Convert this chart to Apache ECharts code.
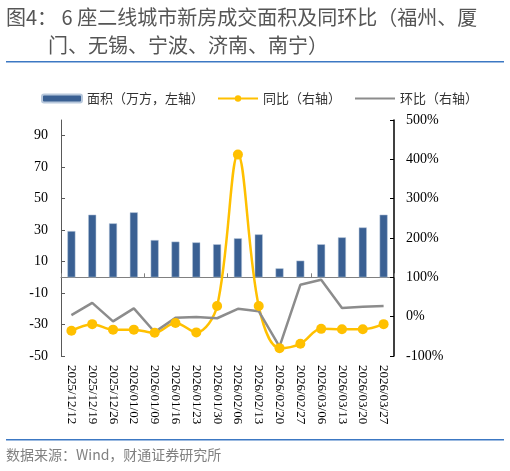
<!DOCTYPE html>
<html>
<head>
<meta charset="utf-8">
<script src="https://cdn.jsdelivr.net/npm/echarts@6/dist/echarts.min.js"></script>
<style>
  html, body { margin: 0; padding: 0; background: #fff; }
  #chart { width: 510px; height: 471px; }
</style>
</head>
<body>
<div id="chart"></div>
<script>
// weekly dates
var categories = ['2025/12/12', '2025/12/19', '2025/12/26', '2026/01/02', '2026/01/09', '2026/01/16',
  '2026/01/23', '2026/01/30', '2026/02/06', '2026/02/13', '2026/02/20', '2026/02/27',
  '2026/03/06', '2026/03/13', '2026/03/20', '2026/03/27'];
// 面积（万方）
var areaValues = [29.4, 39.8, 34.3, 41.3, 23.7, 22.7, 22.2, 21.0, 24.8, 27.3, 5.7, 10.6, 21.0, 25.4, 31.7, 39.8];
// 同比 %
var yoyValues = [-36, -19, -33, -33, -41, -16, -40, 27, 412, 27, -80, -69, -31, -32, -32, -19];
// 环比 %
var momValues = [4, 35, -12, 21, -39, -3, -1, -4, 20, 14, -76, 81, 94, 22, 25, 27];

var titleLine1 = '图4： 6 座二线城市新房成交面积及同环比（福州、厦';
var titleLine2 = '门、无锡、宁波、济南、南宁）';
var sourceText = '数据来源：Wind，财通证券研究所';

var cjk = '"Noto Sans CJK SC", "Noto Sans", sans-serif';
var serif = '"Liberation Serif", "DejaVu Serif", serif';

var chart = echarts.init(document.getElementById('chart'));

var option = {
  animation: false,
  backgroundColor: '#fff',
  graphic: [
    { type: 'text', left: 6, top: 7, style: { text: titleLine1, font: '20px ' + cjk, fill: '#555' } },
    { type: 'text', left: 48, top: 35, style: { text: titleLine2, font: '20px ' + cjk, fill: '#555' } },
    { type: 'rect', shape: { x: 6, y: 61, width: 498, height: 1.5 }, style: { fill: '#3C78C3' } },
    { type: 'rect', shape: { x: 6, y: 439, width: 498, height: 1.5 }, style: { fill: '#3C78C3' } },
    { type: 'text', left: 6, top: 448, style: { text: sourceText, font: '14px ' + cjk, fill: '#808080' } }
  ],
  legend: {
    left: 36,
    top: 87,
    itemWidth: 40,
    itemHeight: 8,
    itemGap: 13,
    textStyle: { fontFamily: cjk, fontSize: 13, color: '#333' },
    data: [
      '面积（万方，左轴）',
      '同比（右轴）',
      { name: '环比（右轴）', itemStyle: { opacity: 0 } }
    ]
  },
  grid: { left: 61, right: 116, top: 120, bottom: 115 },
  xAxis: [
    {
      type: 'category',
      data: categories,
      axisLine: { show: false, onZero: false },
      axisTick: { show: false },
      axisLabel: {
        rotate: -90,
        interval: 0,
        margin: 9,
        fontFamily: serif,
        fontSize: 13,
        color: '#000'
      }
    },
    {
      type: 'category',
      data: categories,
      position: 'bottom',
      axisLine: { show: true, onZero: true, onZeroAxisIndex: 0, lineStyle: { color: '#808080', width: 1 } },
      axisTick: { show: true, inside: true, length: 4, lineStyle: { color: '#808080' } },
      axisLabel: { show: false }
    }
  ],
  yAxis: [
    {
      type: 'value',
      min: -50,
      max: 100,
      interval: 20,
      splitLine: { show: false },
      axisLine: { show: true, lineStyle: { color: '#595959' } },
      axisTick: { show: true, inside: true, length: 4, lineStyle: { color: '#595959' } },
      axisLabel: { showMaxLabel: false, margin: 13, fontFamily: serif, fontSize: 14, color: '#000' }
    },
    {
      type: 'value',
      min: -100,
      max: 500,
      interval: 100,
      position: 'right',
      splitLine: { show: false },
      axisLine: { show: true, lineStyle: { color: '#000', width: 1.5 } },
      axisTick: { show: true, inside: true, length: 4, lineStyle: { color: '#000' } },
      axisLabel: { margin: 12, fontFamily: serif, fontSize: 14, color: '#000', formatter: '{value}%' }
    }
  ],
  series: [
    {
      name: '面积（万方，左轴）',
      type: 'bar',
      xAxisIndex: 0,
      yAxisIndex: 0,
      barWidth: 8,
      itemStyle: { color: '#3A6093', borderColor: '#B8C8DC', borderWidth: 0.5 },
      data: areaValues
    },
    {
      name: '同比（右轴）',
      type: 'line',
      xAxisIndex: 0,
      yAxisIndex: 1,
      smooth: 0.35,
      symbol: 'circle',
      symbolSize: 10,
      lineStyle: { color: '#FFC000', width: 2.5 },
      itemStyle: { color: '#FFC000' },
      data: yoyValues
    },
    {
      name: '环比（右轴）',
      type: 'line',
      xAxisIndex: 0,
      yAxisIndex: 1,
      symbol: 'none',
      lineStyle: { color: '#8C8C8C', width: 2.5 },
      itemStyle: { color: '#8C8C8C' },
      data: momValues
    }
  ]
};

chart.setOption(option);
</script>
</body>
</html>
